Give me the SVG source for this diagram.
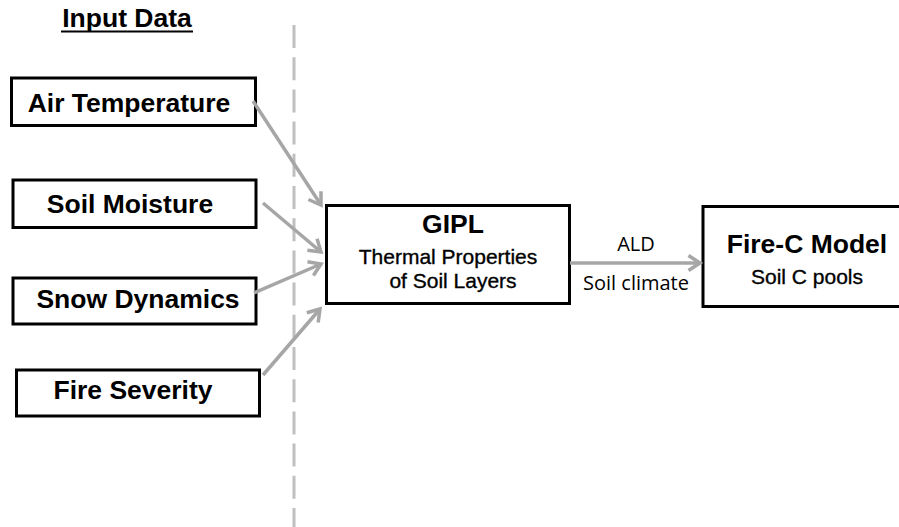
<svg xmlns="http://www.w3.org/2000/svg" width="899" height="527" viewBox="0 0 899 527">
<style>
.box{fill:#fff;stroke:#000;stroke-width:3}
.lbl{font-family:"Liberation Sans",Arial,sans-serif;font-weight:bold;font-size:26.5px;fill:#000;text-anchor:middle}
.sub{font-family:"Liberation Sans",Arial,sans-serif;font-size:21px;fill:#000;stroke:#000;stroke-width:0.35;text-anchor:middle}
.edge{font-family:"Open Sans","Liberation Sans",sans-serif;font-size:20px;fill:#000;text-anchor:middle}
.arr{stroke:#a6a6a6;stroke-width:3.5;fill:none;marker-end:url(#ah)}
</style>
<defs>
<marker id="ah" markerUnits="userSpaceOnUse" viewBox="0 0 18 18" markerWidth="18" markerHeight="18" refX="13" refY="9" orient="auto">
<path d="M1.5,1.5 L13,9 L1.5,16.5" fill="none" stroke="#a6a6a6" stroke-width="3.5"/>
</marker>
</defs>
<rect width="899" height="527" fill="#fff"/>
<g id="divider">
<line x1="294" y1="25" x2="294" y2="527" stroke="#bfbfbf" stroke-width="3" stroke-dasharray="23 9.2"/>
</g>
<g id="title">
<text class="lbl" x="127" y="27">Input Data</text>
<line x1="61" y1="31.5" x2="193" y2="31.5" stroke="#000" stroke-width="2"/>
</g>
<g id="air-temperature">
<rect class="box" x="11.5" y="78" width="244" height="47.5"/>
<text class="lbl" x="129" y="112">Air Temperature</text>
</g>
<g id="soil-moisture">
<rect class="box" x="13" y="180" width="243" height="47.5"/>
<text class="lbl" x="130" y="213">Soil Moisture</text>
</g>
<g id="snow-dynamics">
<rect class="box" x="13" y="278" width="243" height="46"/>
<text class="lbl" x="138" y="308">Snow Dynamics</text>
</g>
<g id="fire-severity">
<rect class="box" x="16.5" y="370" width="243" height="46"/>
<text class="lbl" x="133" y="399">Fire Severity</text>
</g>
<g id="gipl">
<rect class="box" x="326.5" y="205.5" width="243" height="98"/>
<text class="lbl" x="453" y="233">GIPL</text>
<text class="sub" x="448" y="264">Thermal Properties</text>
<text class="sub" x="453" y="288">of Soil Layers</text>
</g>
<g id="fire-c-model">
<rect class="box" x="703" y="206.5" width="200" height="100"/>
<text class="lbl" x="807" y="253">Fire-C Model</text>
<text class="sub" x="807" y="284">Soil C pools</text>
</g>
<g id="connectors">
<line class="arr" x1="253" y1="101" x2="321" y2="205"/>
<line class="arr" x1="263" y1="203" x2="321" y2="252"/>
<line class="arr" x1="254" y1="293" x2="321" y2="264"/>
<line class="arr" x1="263" y1="375" x2="320" y2="309"/>
<line class="arr" x1="570" y1="263" x2="700" y2="263"/>
<text class="edge" x="636" y="251">ALD</text>
<text class="edge" x="636" y="290">Soil climate</text>
</g>
</svg>
